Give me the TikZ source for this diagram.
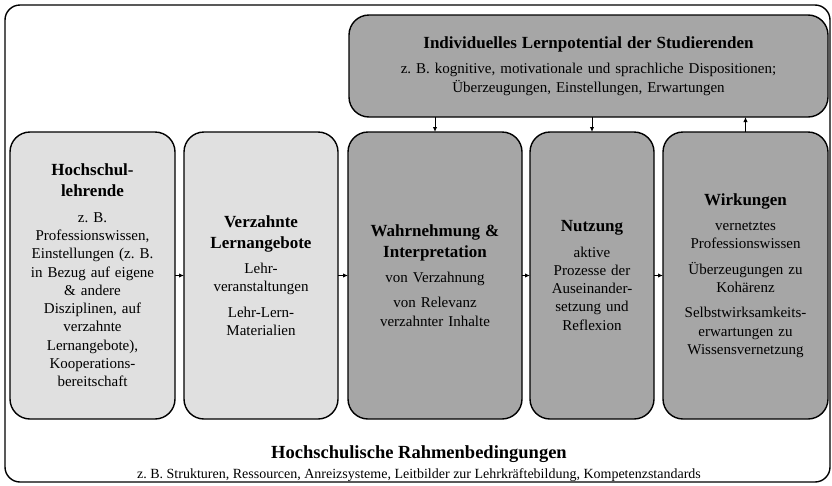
\documentclass[tikz,border=0pt]{standalone}
\usepackage{fontspec}
\setmainfont{Liberation Serif}
\usetikzlibrary{positioning,arrows.meta}

\definecolor{hellgrau}{RGB}{224,224,224}
\definecolor{dunkelgrau}{RGB}{166,166,166}

% Titelzeile in einem Kasten
\newcommand{\boxtitel}[1]{{\fontsize{17}{21}\selectfont\bfseries #1\par}\vspace{7pt}}

\begin{document}
\begin{tikzpicture}[x=1pt, y=-1pt,
    kasten/.style={draw, line width=1.4pt, rounded corners=20pt, align=center,
                   inner sep=3pt, outer sep=0pt, font=\fontsize{15}{18.3}\selectfont},
    hell/.style={kasten, fill=hellgrau, minimum height=287pt},
    dunkel/.style={kasten, fill=dunkelgrau, minimum height=287pt},
    pfeil/.style={-{Latex[length=5pt,width=4.5pt]}, line width=1pt}]

    \useasboundingbox (0,0) rectangle (832,485);

    % Rahmen: Hochschulische Rahmenbedingungen
    \draw[line width=1.4pt, rounded corners=15pt] (5,5) rectangle (830,482);

    % obere Zeile: Lernpotential
    \node[kasten, fill=dunkelgrau, text width=473pt, minimum height=102pt] (lp) at (588.5,66)
        {\boxtitel{Individuelles Lernpotential der Studierenden}
         z.~B. kognitive, motivationale und sprachliche Dispositionen;\\
         Überzeugungen, Einstellungen, Erwartungen};

    % untere Zeile: fünf Kästen
    \node[hell, text width=159pt] (hl) at (92.5,275.5)
        {\boxtitel{Hochschul-\\lehrende}
         z.~B.\\Professionswissen,\\Einstellungen (z.~B.\\in Bezug auf eigene\\\& andere\\
         Disziplinen, auf\\verzahnte\\Lernangebote),\\Kooperations-\\bereitschaft};
    \node[hell, text width=148pt, right=9pt of hl] (va)
        {\boxtitel{Verzahnte\\Lernangebote}
         Lehr-\\veranstaltungen\par\vspace{7pt}
         Lehr-Lern-\\Materialien};
    \node[dunkel, text width=168pt, right=10pt of va] (wi)
        {\boxtitel{Wahrnehmung \&\\Interpretation}
         von Verzahnung\par\vspace{7pt}
         von Relevanz\\verzahnter Inhalte};
    \node[dunkel, text width=118pt, right=8pt of wi] (nu)
        {\boxtitel{Nutzung}
         aktive\\Prozesse der\\Auseinander-\\setzung und\\Reflexion};
    \node[dunkel, text width=159pt, right=9pt of nu] (wk)
        {\boxtitel{Wirkungen}
         vernetztes\\Professionswissen\par\vspace{7pt}
         Überzeugungen zu\\Kohärenz\par\vspace{7pt}
         Selbstwirksamkeits-\\erwartungen zu\\Wissensvernetzung};

    % Pfeile
    \draw[pfeil] (hl) -- (va);
    \draw[pfeil] (va) -- (wi);
    \draw[pfeil] (wi) -- (nu);
    \draw[pfeil] (nu) -- (wk);
    \draw[pfeil] (wi.north |- lp.south) -- (wi.north);
    \draw[pfeil] (nu.north |- lp.south) -- (nu.north);
    \draw[pfeil] (wk.north) -- (wk.north |- lp.south);

    % Rahmenbedingungen
    \node[font=\fontsize{18.5}{22}\selectfont\bfseries] (rb) at (419,454)
        {Hochschulische Rahmenbedingungen};
    \node[font=\fontsize{14}{16}\selectfont, below=-1pt of rb] (rbtext)
        {z.~B. Strukturen, Ressourcen, Anreizsysteme, Leitbilder zur Lehrkräftebildung, Kompetenzstandards};
\end{tikzpicture}
\end{document}
